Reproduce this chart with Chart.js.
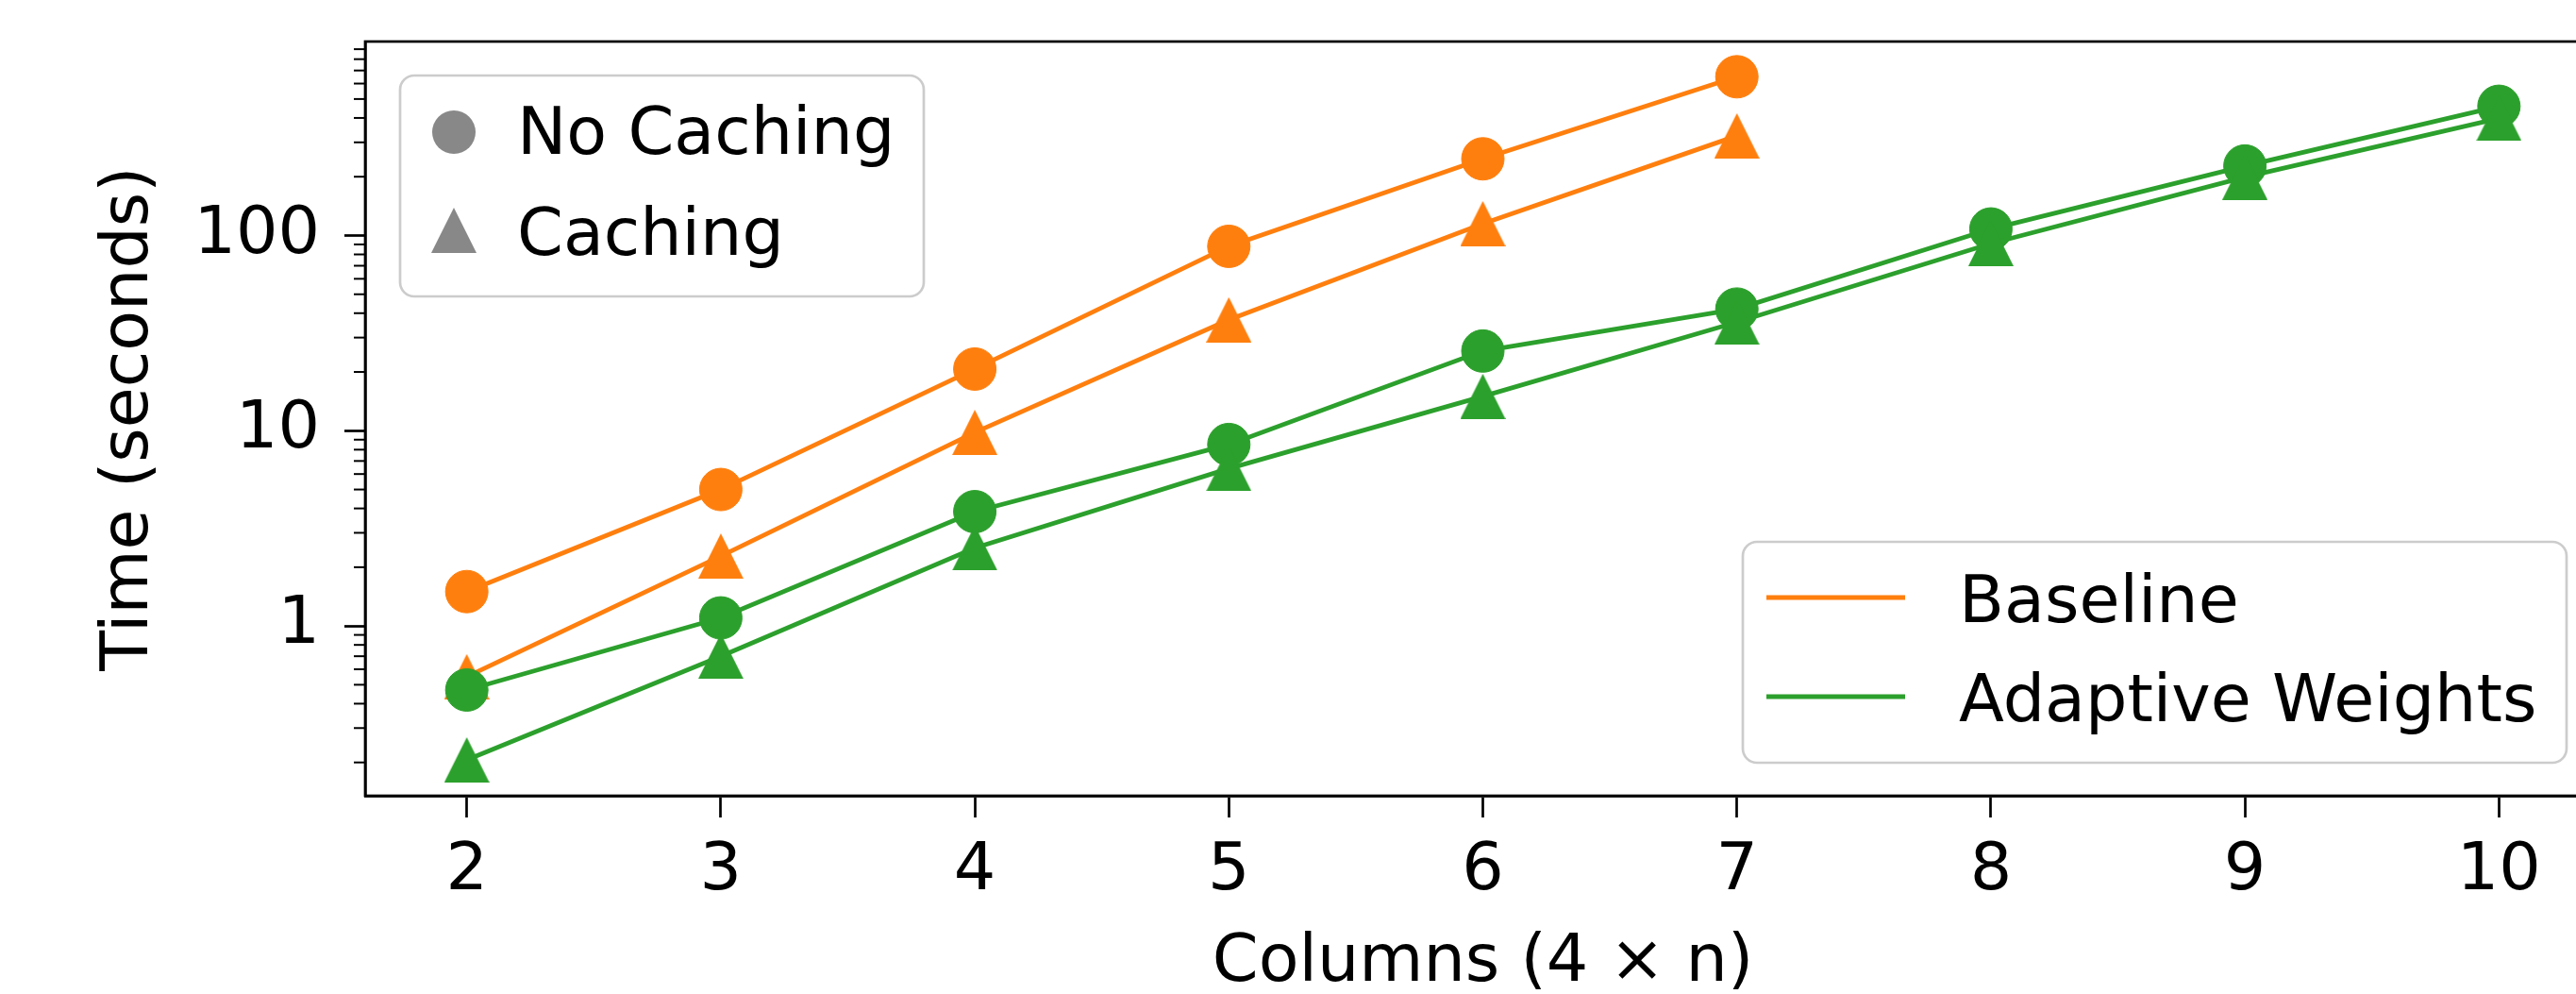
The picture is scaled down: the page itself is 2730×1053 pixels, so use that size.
<!DOCTYPE html>
<html>
<head>
<meta charset="utf-8">
<script src="https://cdn.jsdelivr.net/npm/chart.js@4.4.1/dist/chart.umd.min.js"></script>
<style>
  html, body { margin: 0; padding: 0; overflow: hidden; background: #fff; }
  canvas { display: block; }
</style>
</head>
<body>
<canvas id="myChart" width="2760" height="1060"></canvas>
<script>
// values (seconds, log axis)
const columns = [2, 3, 4, 5, 6, 7, 8, 9, 10];
const baselineNoCaching = [1.5, 5.0, 20.7, 88, 247, 650];
const baselineCaching = [0.55, 2.28, 9.8, 37, 115, 324];
const adaptiveNoCaching = [0.47, 1.1, 3.85, 8.5, 25.6, 42, 108, 227, 459];
const adaptiveCaching = [0.206, 0.70, 2.51, 6.4, 15.0, 36, 91, 199, 398];
const yTickLabels = [1, 10, 100];

const orange = '#ff7f0e';
const green = '#2ca02c';
const gray = '#888888';
const fontFamily = '"DejaVu Sans", sans-serif';
const fontSize = 70;

function toPoints(values) {
  return values.map(function (v, i) { return { x: columns[i], y: v }; });
}

// matplotlib-like triangle marker (as wide as it is tall)
function triangleImage(color, size) {
  var c = document.createElement('canvas');
  c.width = size;
  c.height = size;
  var g = c.getContext('2d');
  g.fillStyle = color;
  g.beginPath();
  g.moveTo(size / 2, 0);
  g.lineTo(size, size);
  g.lineTo(0, size);
  g.closePath();
  g.fill();
  return c;
}

function roundBox(ctx, x, y, w, h, r) {
  ctx.beginPath();
  ctx.moveTo(x + r, y);
  ctx.arcTo(x + w, y, x + w, y + h, r);
  ctx.arcTo(x + w, y + h, x, y + h, r);
  ctx.arcTo(x, y + h, x, y, r);
  ctx.arcTo(x, y, x + w, y, r);
  ctx.closePath();
  ctx.fillStyle = 'rgba(255,255,255,0.8)';
  ctx.fill();
  ctx.strokeStyle = '#cccccc';
  ctx.lineWidth = 2.7;
  ctx.stroke();
}

function lineDataset(label, values, color, triangle, order) {
  return {
    label: label,
    data: toPoints(values),
    borderColor: color,
    backgroundColor: color,
    borderWidth: 4.8,
    tension: 0,
    fill: false,
    pointStyle: triangle ? triangleImage(color, 48) : 'circle',
    pointRadius: triangle ? 24 : 22.5,
    pointBorderWidth: 1,
    pointBorderColor: color,
    pointBackgroundColor: color,
    order: order
  };
}

// no extra room around the axes, the frame is placed by layout padding
function noScalePadding(scale) {
  scale.paddingTop = 0;
  scale.paddingBottom = 0;
  scale.paddingLeft = 0;
  scale.paddingRight = 0;
}

// frame, minor log ticks and the two legends
const extras = {
  id: 'extras',
  afterDatasetsDraw: function (chart) {
    var ctx = chart.ctx;
    var a = chart.chartArea;
    var y = chart.scales.y;
    ctx.save();

    // minor ticks on the log axis
    ctx.strokeStyle = '#000';
    ctx.lineWidth = 2;
    [0.1, 1, 10, 100].forEach(function (d) {
      for (var m = 2; m <= 9; m++) {
        var v = m * d;
        if (v < y.min || v > y.max) continue;
        var py = y.getPixelForValue(v);
        ctx.beginPath();
        ctx.moveTo(a.left - 12, py);
        ctx.lineTo(a.left, py);
        ctx.stroke();
      }
    });

    // axes frame
    ctx.lineWidth = 2.7;
    ctx.strokeRect(a.left, a.top, a.right - a.left, a.bottom - a.top);

    ctx.font = fontSize + 'px ' + fontFamily;
    ctx.textAlign = 'left';
    ctx.textBaseline = 'alphabetic';

    // marker legend (upper left)
    var bx = a.left + 37, by = a.top + 36;
    roundBox(ctx, bx, by, 555, 234, 15);
    ctx.fillStyle = gray;
    ctx.beginPath();
    ctx.arc(bx + 57, by + 60, 23, 0, Math.PI * 2);
    ctx.fill();
    ctx.drawImage(triangleImage(gray, 48), bx + 33, by + 140);
    ctx.fillStyle = '#000';
    ctx.fillText('No Caching', bx + 124, by + 83);
    ctx.fillText('Caching', bx + 124, by + 190);

    // method legend (lower right)
    var w2 = 873, h2 = 234;
    var cx = a.right - 36 - w2, cy = a.bottom - 35 - h2;
    roundBox(ctx, cx, cy, w2, h2, 15);
    ctx.lineWidth = 5;
    ctx.strokeStyle = orange;
    ctx.beginPath();
    ctx.moveTo(cx + 25, cy + 59);
    ctx.lineTo(cx + 172, cy + 59);
    ctx.stroke();
    ctx.strokeStyle = green;
    ctx.beginPath();
    ctx.moveTo(cx + 25, cy + 164);
    ctx.lineTo(cx + 172, cy + 164);
    ctx.stroke();
    ctx.fillStyle = '#000';
    ctx.fillText('Baseline', cx + 229, cy + 85);
    ctx.fillText('Adaptive Weights', cx + 229, cy + 190);

    ctx.restore();
  }
};

const ctx = document.getElementById('myChart');

var chart = new Chart(ctx, {
  type: 'line',
  data: {
    datasets: [
      lineDataset('Baseline, No Caching', baselineNoCaching, orange, false, 3),
      lineDataset('Baseline, Caching', baselineCaching, orange, true, 2),
      lineDataset('Adaptive Weights, No Caching', adaptiveNoCaching, green, false, 1),
      lineDataset('Adaptive Weights, Caching', adaptiveCaching, green, true, 0)
    ]
  },
  options: {
    responsive: false,
    animation: false,
    events: [],
    layout: { autoPadding: false, padding: { top: 44, right: 4, left: 0, bottom: 0 } },
    plugins: {
      legend: { display: false },
      tooltip: { enabled: false }
    },
    scales: {
      x: {
        type: 'linear',
        min: 1.6,
        max: 10.4,
        afterBuildTicks: function (axis) {
          axis.ticks = columns.map(function (c) { return { value: c }; });
        },
        afterFit: function (scale) {
          scale.height = 217;
          noScalePadding(scale);
        },
        ticks: {
          color: '#000',
          font: { family: fontFamily, size: fontSize },
          padding: 16,
          maxRotation: 0,
          autoSkip: false
        },
        grid: {
          drawOnChartArea: false,
          tickLength: 23,
          tickWidth: 2.7,
          tickColor: '#000'
        },
        border: { color: '#000', width: 2.7 },
        title: {
          display: true,
          text: 'Columns (4 × n)',
          color: '#000',
          font: { family: fontFamily, size: fontSize, lineHeight: 1 },
          padding: { top: 0, bottom: 4 }
        }
      },
      y: {
        type: 'logarithmic',
        min: 0.135,
        max: 985,
        afterBuildTicks: function (axis) {
          axis.ticks = yTickLabels.map(function (v) { return { value: v, major: true }; });
        },
        afterFit: function (scale) {
          scale.width = 387;
          noScalePadding(scale);
        },
        ticks: {
          color: '#000',
          font: { family: fontFamily, size: fontSize },
          padding: 26,
          autoSkip: false,
          callback: function (value) { return String(value); }
        },
        grid: {
          drawOnChartArea: false,
          tickLength: 22,
          tickWidth: 2.7,
          tickColor: '#000'
        },
        border: { color: '#000', width: 2.7 },
        title: {
          display: true,
          text: 'Time (seconds)',
          color: '#000',
          font: { family: fontFamily, size: fontSize, lineHeight: 1 },
          padding: { top: 103, bottom: 0 }
        }
      }
    }
  },
  plugins: [extras]
});
</script>
</body>
</html>
